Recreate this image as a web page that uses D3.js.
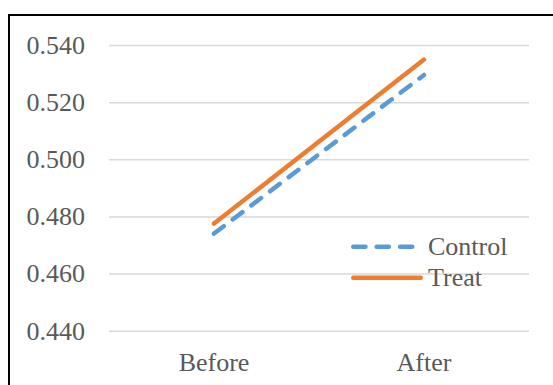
<!DOCTYPE html>
<html>
<head>
<meta charset="utf-8">
<script src="https://cdn.jsdelivr.net/npm/d3@7"></script>
<style>
  html, body { margin: 0; padding: 0; background: #fff; }
  svg { display: block; }
  text { font-family: "Liberation Serif", "Times New Roman", serif; fill: #595959; }
</style>
</head>
<body>
<svg id="chart" width="553" height="385"></svg>
<script>
const categories = ["Before", "After"];
const seriesNames = ["Control", "Treat"];
const controlValues = [0.4740, 0.5295];
const treatValues = [0.4775, 0.5349];
const yTicks = [0.440, 0.460, 0.480, 0.500, 0.520, 0.540];
const colors = ["#5B9BD5", "#ED7D31"];

const svg = d3.select("#chart");
const W = 553, H = 385;
const plot = { left: 109, right: 529, top: 45, bottom: 330.7 };

// outer border (extends beyond the image at right/bottom)
svg.append("rect")
  .attr("x", 9).attr("y", 15)
  .attr("width", 600).attr("height", 450)
  .attr("fill", "#fff")
  .attr("stroke", "#000").attr("stroke-width", 2);

const x = d3.scaleBand().domain(categories).range([plot.left, plot.right]);
const y = d3.scaleLinear().domain([0.440, 0.540]).range([plot.bottom, plot.top]);

// gridlines
const yAxis = d3.axisLeft(y).tickValues(yTicks).tickFormat(d3.format(".3f"))
  .tickSize(-(plot.right - plot.left)).tickPadding(24);
const gy = svg.append("g").attr("transform", `translate(${plot.left},0)`).call(yAxis);
gy.select(".domain").remove();
gy.selectAll(".tick line").attr("stroke", "#D9D9D9").attr("stroke-width", 1.5);
gy.selectAll(".tick text").attr("font-size", 26).attr("fill", "#595959")
  .style("font-family", '"Liberation Serif", serif');

// x axis labels
const xAxis = d3.axisBottom(x).tickSize(0).tickPadding(22);
const gx = svg.append("g").attr("transform", `translate(0,${plot.bottom})`).call(xAxis);
gx.select(".domain").remove();
gx.selectAll(".tick text").attr("font-size", 26).attr("fill", "#595959")
  .style("font-family", '"Liberation Serif", serif');

const line = d3.line()
  .x((d, i) => x(categories[i]) + x.bandwidth() / 2)
  .y(d => y(d));

const series = [controlValues, treatValues];
series.forEach((vals, i) => {
  svg.append("path")
    .datum(vals)
    .attr("d", line)
    .attr("fill", "none")
    .attr("stroke", colors[i])
    .attr("stroke-width", 4.5)
    .attr("stroke-linecap", "round")
    .attr("stroke-dasharray", i === 0 ? "12.2,11.2" : null);
});

// legend
const legendX0 = 353.25, legendX1 = 420.75;
const legendY = [246.7, 277.7];
seriesNames.forEach((name, i) => {
  svg.append("line")
    .attr("x1", legendX0).attr("x2", legendX1)
    .attr("y1", legendY[i]).attr("y2", legendY[i])
    .attr("stroke", colors[i]).attr("stroke-width", 4.5)
    .attr("stroke-linecap", "round")
    .attr("stroke-dasharray", i === 0 ? "12.2,11.2" : null);
  svg.append("text")
    .attr("x", 428).attr("y", legendY[i] + 8.5)
    .attr("font-size", 26)
    .text(name);
});
</script>
</body>
</html>
